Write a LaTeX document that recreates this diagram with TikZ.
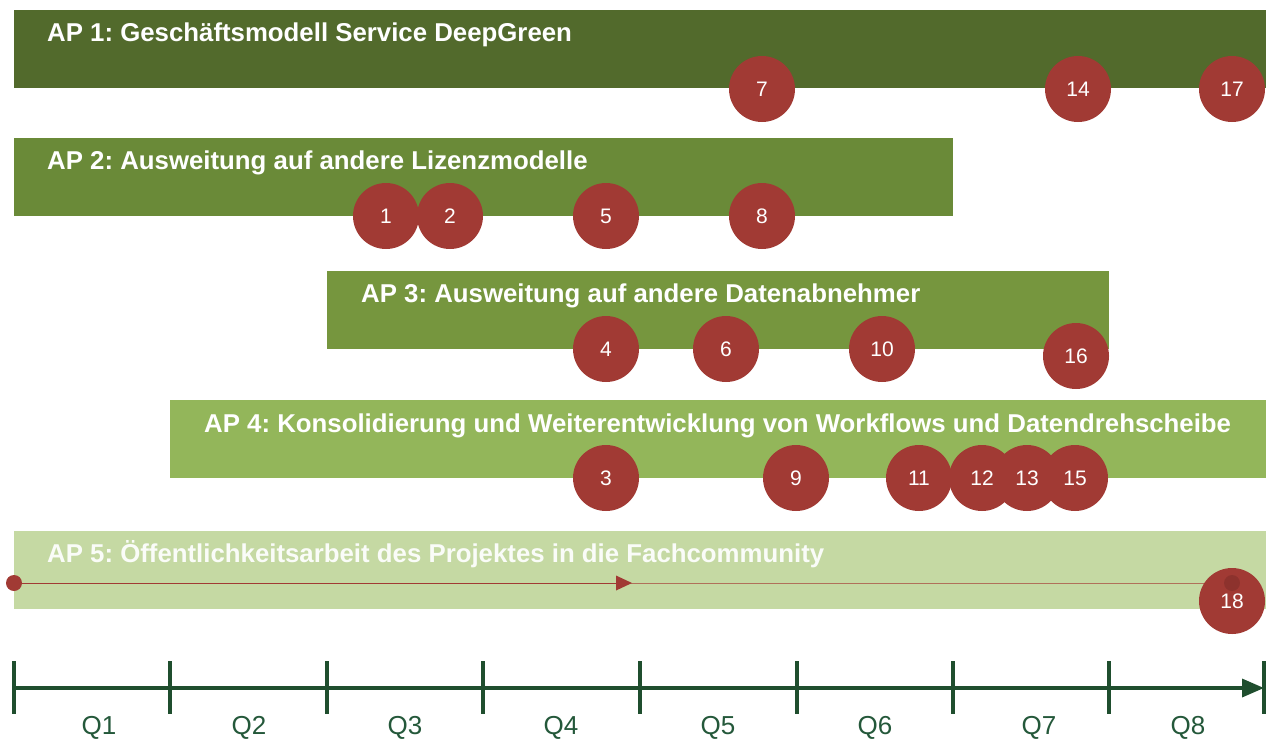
\documentclass[tikz,border=0pt]{standalone}
\usepackage{fontspec}
\setmainfont{Liberation Sans}
\usetikzlibrary{arrows.meta}
\definecolor{apone}{HTML}{526A2C}
\definecolor{aptwo}{HTML}{6A8A38}
\definecolor{apthree}{HTML}{76963E}
\definecolor{apfour}{HTML}{93B65A}
\definecolor{apfive}{HTML}{C5D9A3}
\definecolor{msred}{HTML}{A13A34}
\definecolor{tlgreen}{HTML}{1F4E2E}
\definecolor{qgreen}{HTML}{24583A}
\definecolor{thinline}{HTML}{B0705A}
\frenchspacing
\begin{document}
\begin{tikzpicture}[x=1pt,y=-1pt,
  bar/.style={rectangle, inner sep=0pt, outer sep=0pt, anchor=north west, minimum height=78pt},
  aplabel/.style={anchor=base west, text=white, inner sep=0pt, font=\fontsize{25.8}{30}\selectfont\bfseries},
  ms/.style={circle, fill=msred, minimum size=66pt, inner sep=0pt, text=white, font=\fontsize{21}{25}\selectfont},
  tick/.style={draw=tlgreen, line width=3.5pt},
  qlab/.style={text=qgreen, font=\fontsize{26}{30}\selectfont, inner sep=0pt}]
\useasboundingbox (0,0) rectangle (1266,740);
% bars
\node[bar, fill=apone, minimum width=1252pt] (ap1) at (14,10) {};
\node[bar, fill=aptwo, minimum width=939pt] (ap2) at (14,138) {};
\node[bar, fill=apthree, minimum width=782pt] (ap3) at (327,271) {};
\node[bar, fill=apfour, minimum width=1096pt] (ap4) at (170,400) {};
\node[bar, fill=apfive, minimum width=1252pt] (ap5) at (14,531) {};
% labels
\node[aplabel] (l1) at (47,41) {AP 1: Geschäftsmodell Service DeepGreen};
\node[aplabel] (l2) at (47,169) {AP 2: Ausweitung auf andere Lizenzmodelle};
\node[aplabel] (l3) at (361,302) {AP 3: Ausweitung auf andere Datenabnehmer};
\node[aplabel] (l4) at (204,432) {AP 4: Konsolidierung und Weiterentwicklung von Workflows und Datendrehscheibe};
\node[aplabel, text=white!92!apfive] (l5) at (47,562) {AP 5: Öffentlichkeitsarbeit des Projektes in die Fachcommunity};
% AP5 line
\coordinate (s) at (14,583);
\coordinate (m) at (632,583);
\coordinate (e) at (1232,583);
\draw[thinline, line width=0.8pt] (s) -- (e);
\draw[msred, line width=0pt, -{Triangle[length=16pt,width=15pt]}] (s) -- (m);
\node[circle, fill=msred, minimum size=16pt, inner sep=0pt] (sd) at (s) {};
% milestones
\node[ms] (m7) at (762,89) {7};
\node[ms] (m14) at (1078,89) {14};
\node[ms] (m17) at (1232,89) {17};
\node[ms] (m1) at (386,216) {1};
\node[ms] (m2) at (450,216) {2};
\node[ms] (m5) at (606,216) {5};
\node[ms] (m8) at (762,216) {8};
\node[ms] (m4) at (606,349) {4};
\node[ms] (m6) at (726,349) {6};
\node[ms] (m10) at (882,349) {10};
\node[ms] (m16) at (1076,356) {16};
\node[ms] (m3) at (606,478) {3};
\node[ms] (m9) at (796,478) {9};
\node[ms] (m11) at (919,478) {11};
\node[ms] (m12) at (982,478) {12};
\node[ms] (m13) at (1027,478) {13};
\node[ms] (m15) at (1075,478) {15};
\node[ms] (m18) at (1232,601) {18};
\node[circle, fill=black, opacity=0.12, minimum size=16pt, inner sep=0pt] (ed) at (e) {};
% timeline
\coordinate (t0) at (14,688);
\coordinate (t9) at (1264,688);
\draw[tlgreen, line width=3.5pt, -{Triangle[length=22pt,width=18pt]}] (t0) -- (t9);
\foreach \x in {14,170,327,483,640,797,953,1109,1264}
  \draw[tick] (\x,661) -- (\x,714);
\node[qlab] (q1) at (99,728) {Q1};
\node[qlab] (q2) at (249,728) {Q2};
\node[qlab] (q3) at (405,728) {Q3};
\node[qlab] (q4) at (561,728) {Q4};
\node[qlab] (q5) at (718,728) {Q5};
\node[qlab] (q6) at (875,728) {Q6};
\node[qlab] (q7) at (1039,728) {Q7};
\node[qlab] (q8) at (1188,728) {Q8};
\end{tikzpicture}
\end{document}
